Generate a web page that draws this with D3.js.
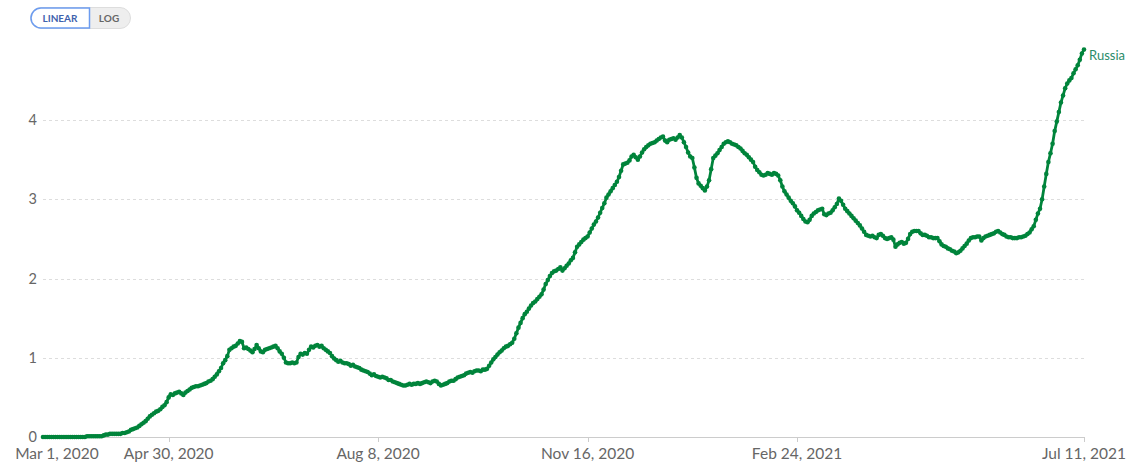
<!DOCTYPE html>
<html>
<head>
<meta charset="utf-8">
<script src="https://cdn.jsdelivr.net/npm/d3@7"></script>
<style>
  body { margin: 0; background: #fff; font-family: Lato, "Noto Sans", sans-serif; }
  svg { display: block; }
  .grid line { stroke: #ddd; stroke-dasharray: 3,3; }
  .tick-label { fill: #666; }
</style>
</head>
<body>
<svg id="chart"></svg>
<script>
// Russia, daily values per million, one value per day starting Mar 1, 2020
const startDate = new Date(2020, 2, 1);
const country = "Russia";
const values = [
  0, 0, 0, 0, 0, 0, 0, 0, 0, 0,
  0, 0, 0, 0, 0, 0, 0, 0, 0, 0,
  0.00, 0.01, 0.01, 0.01, 0.01, 0.01, 0.01, 0.01, 0.01, 0.02,
  0.03, 0.03, 0.04, 0.04, 0.04, 0.04, 0.04, 0.04, 0.05, 0.05,
  0.06, 0.07, 0.09, 0.10, 0.11, 0.12, 0.14, 0.16, 0.18, 0.20,
  0.23, 0.26, 0.28, 0.30, 0.32, 0.33, 0.35, 0.38, 0.40, 0.44,
  0.50, 0.54, 0.53, 0.55, 0.56, 0.57, 0.55, 0.53, 0.56, 0.58,
  0.60, 0.62, 0.63, 0.64, 0.64, 0.65, 0.66, 0.67, 0.68, 0.70,
  0.71, 0.73, 0.76, 0.79, 0.83, 0.87, 0.93, 0.97, 1.02, 1.10,
  1.12, 1.14, 1.15, 1.18, 1.21, 1.20, 1.12, 1.13, 1.11, 1.09,
  1.07, 1.11, 1.16, 1.12, 1.08, 1.07, 1.10, 1.11, 1.12, 1.13,
  1.14, 1.15, 1.12, 1.08, 1.05, 1.00, 0.94, 0.93, 0.93, 0.94,
  0.93, 0.94, 1.01, 1.05, 1.04, 1.06, 1.05, 1.10, 1.14, 1.13,
  1.15, 1.16, 1.14, 1.15, 1.12, 1.10, 1.08, 1.06, 1.02, 0.99,
  0.97, 0.95, 0.96, 0.94, 0.93, 0.93, 0.92, 0.90, 0.91, 0.89,
  0.88, 0.87, 0.85, 0.84, 0.83, 0.82, 0.80, 0.78, 0.79, 0.77,
  0.76, 0.75, 0.76, 0.75, 0.74, 0.72, 0.72, 0.70, 0.69, 0.68,
  0.67, 0.66, 0.65, 0.65, 0.66, 0.67, 0.66, 0.67, 0.67, 0.68,
  0.67, 0.68, 0.69, 0.70, 0.69, 0.68, 0.70, 0.71, 0.70, 0.67,
  0.65, 0.66, 0.67, 0.68, 0.70, 0.71, 0.71, 0.73, 0.75, 0.76,
  0.77, 0.78, 0.80, 0.81, 0.82, 0.81, 0.83, 0.84, 0.84, 0.83,
  0.85, 0.85, 0.86, 0.90, 0.94, 0.98, 1.01, 1.04, 1.07, 1.09,
  1.12, 1.14, 1.15, 1.17, 1.19, 1.24, 1.31, 1.38, 1.44, 1.50,
  1.55, 1.58, 1.62, 1.66, 1.69, 1.71, 1.74, 1.77, 1.80, 1.86,
  1.93, 1.98, 2.03, 2.07, 2.09, 2.10, 2.12, 2.14, 2.10, 2.13,
  2.16, 2.19, 2.23, 2.26, 2.33, 2.40, 2.43, 2.46, 2.49, 2.51,
  2.53, 2.58, 2.63, 2.68, 2.72, 2.77, 2.83, 2.89, 2.95, 3.02,
  3.06, 3.10, 3.14, 3.18, 3.22, 3.28, 3.36, 3.44, 3.45, 3.46,
  3.49, 3.54, 3.56, 3.53, 3.50, 3.54, 3.59, 3.63, 3.66, 3.68,
  3.70, 3.71, 3.72, 3.74, 3.76, 3.78, 3.79, 3.74, 3.72, 3.75,
  3.76, 3.77, 3.75, 3.78, 3.81, 3.78, 3.72, 3.66, 3.59, 3.54,
  3.52, 3.40, 3.27, 3.20, 3.17, 3.14, 3.11, 3.16, 3.24, 3.38,
  3.52, 3.55, 3.58, 3.62, 3.66, 3.70, 3.72, 3.73, 3.72, 3.70,
  3.69, 3.68, 3.66, 3.64, 3.61, 3.58, 3.56, 3.53, 3.50, 3.47,
  3.41, 3.37, 3.34, 3.31, 3.30, 3.31, 3.33, 3.32, 3.31, 3.33,
  3.32, 3.30, 3.24, 3.16, 3.10, 3.06, 3.02, 2.98, 2.95, 2.91,
  2.86, 2.83, 2.79, 2.75, 2.72, 2.71, 2.74, 2.79, 2.82, 2.84,
  2.86, 2.87, 2.88, 2.81, 2.80, 2.82, 2.83, 2.86, 2.90, 2.94,
  3.01, 2.98, 2.93, 2.88, 2.85, 2.82, 2.79, 2.76, 2.73, 2.70,
  2.67, 2.63, 2.59, 2.55, 2.54, 2.53, 2.54, 2.52, 2.51, 2.55,
  2.56, 2.54, 2.51, 2.50, 2.51, 2.52, 2.49, 2.40, 2.43, 2.45,
  2.46, 2.44, 2.45, 2.50, 2.56, 2.59, 2.60, 2.60, 2.60, 2.57,
  2.55, 2.55, 2.54, 2.52, 2.52, 2.51, 2.51, 2.51, 2.47, 2.43,
  2.41, 2.40, 2.38, 2.37, 2.35, 2.34, 2.32, 2.33, 2.35, 2.38,
  2.41, 2.44, 2.48, 2.51, 2.52, 2.52, 2.53, 2.53, 2.48, 2.51,
  2.53, 2.54, 2.55, 2.56, 2.57, 2.59, 2.60, 2.58, 2.56, 2.55,
  2.53, 2.52, 2.52, 2.51, 2.51, 2.51, 2.52, 2.52, 2.53, 2.54,
  2.56, 2.58, 2.62, 2.66, 2.74, 2.82, 2.88, 3.00, 3.16, 3.32,
  3.47, 3.58, 3.70, 3.86, 3.98, 4.10, 4.22, 4.31, 4.40, 4.46,
  4.50, 4.53, 4.59, 4.64, 4.69, 4.76, 4.84, 4.89
];
const yTicks = [0, 1, 2, 3, 4];
const xTickDates = [
  new Date(2020, 2, 1), new Date(2020, 3, 30), new Date(2020, 7, 8),
  new Date(2020, 10, 16), new Date(2021, 1, 24), new Date(2021, 6, 11)
];
const scaleModes = ["LINEAR", "LOG"];

const width = 1131, height = 462;
const lineColor = "#00843b";

const data = values.map((v, i) => ({ date: d3.timeDay.offset(startDate, i), value: v }));

const svg = d3.select("#chart").attr("width", width).attr("height", height);

const x = d3.scaleTime()
    .domain([startDate, data[data.length - 1].date])
    .range([43, 1084]);

const y = d3.scaleLinear()
    .domain([0, 4])
    .range([437, 120]);

// dashed gridlines
svg.append("g").attr("class", "grid")
  .selectAll("line")
  .data(yTicks.filter(d => d > 0))
  .enter().append("line")
    .attr("x1", 43).attr("x2", 1084)
    .attr("y1", d => Math.round(y(d)) + 0.5)
    .attr("y2", d => Math.round(y(d)) + 0.5);

// y labels
svg.append("g")
  .selectAll("text")
  .data(yTicks)
  .enter().append("text")
    .attr("class", "tick-label")
    .attr("x", 37)
    .attr("y", d => y(d))
    .attr("dy", "0.35em")
    .attr("text-anchor", "end")
    .style("font-size", "14.5px")
    .text(d => d);

// baseline + x ticks
svg.append("line")
    .attr("x1", 43).attr("x2", 1084)
    .attr("y1", 437.5).attr("y2", 437.5)
    .attr("stroke", "#ccc");

const xAxis = svg.append("g");
xAxis.selectAll("line")
  .data(xTickDates.slice(1))
  .enter().append("line")
    .attr("x1", d => Math.round(x(d)) + 0.5)
    .attr("x2", d => Math.round(x(d)) + 0.5)
    .attr("y1", 437).attr("y2", 442)
    .attr("stroke", "#ccc");

xAxis.selectAll("text")
  .data(xTickDates)
  .enter().append("text")
    .attr("class", "tick-label")
    .attr("x", (d, i) => i === 0 ? x(d) + 14 : x(d))
    .attr("y", 459)
    .attr("text-anchor", "middle")
    .style("font-size", "15.5px")
    .text(d3.timeFormat("%b %-d, %Y"));

// the line
const line = d3.line()
    .x(d => x(d.date))
    .y(d => y(d.value));

svg.append("path")
    .datum(data)
    .attr("fill", "none")
    .attr("stroke", lineColor)
    .attr("stroke-width", 2.8)
    .attr("stroke-linejoin", "round")
    .attr("d", line);

svg.append("g")
  .selectAll("circle")
  .data(data)
  .enter().append("circle")
    .attr("cx", d => x(d.date))
    .attr("cy", d => y(d.value))
    .attr("r", 2.3)
    .attr("fill", lineColor);

// series label
const last = data[data.length - 1];
svg.append("text")
    .attr("x", x(last.date) + 5)
    .attr("y", y(last.value) + 11)
    .attr("fill", "#2a8c6a")
    .style("font-size", "13px")
    .text(country);

// linear / log toggle
const toggle = svg.append("g").attr("transform", "translate(30,7)");
toggle.append("rect")
    .attr("x", 0.5).attr("y", 0.5)
    .attr("width", 100).attr("height", 21)
    .attr("rx", 10.5)
    .attr("fill", "#eee").attr("stroke", "#ddd");
toggle.append("path")
    .attr("d", "M59.5,1 H11 A10,10 0 0 0 11,21 H59.5 Z")
    .attr("fill", "#fff").attr("stroke", "#6c9cf0").attr("stroke-width", 1.5);
toggle.selectAll("text")
  .data(scaleModes)
  .enter().append("text")
    .attr("x", (d, i) => i === 0 ? 30 : 79)
    .attr("y", 15)
    .attr("text-anchor", "middle")
    .attr("fill", (d, i) => i === 0 ? "#3f62ad" : "#666")
    .style("font-size", "10px")
    .style("font-weight", "bold")
    .text(d => d);
</script>
</body>
</html>
